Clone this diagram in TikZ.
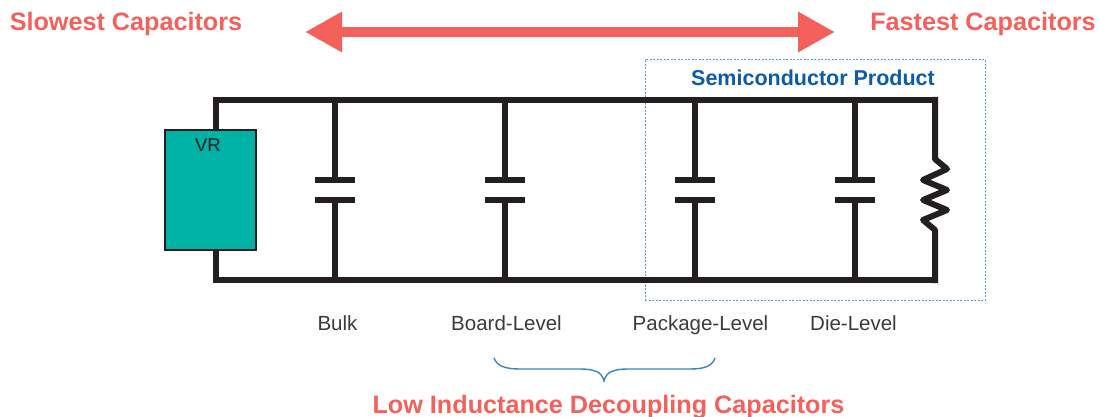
\documentclass[tikz,border=0pt]{standalone}
\usepackage{fontspec}
\setmainfont{Liberation Sans}
\usetikzlibrary{arrows.meta}
\definecolor{coral}{HTML}{F4605A}
\definecolor{teal1}{HTML}{00B2A5}
\definecolor{ink}{HTML}{231F20}
\definecolor{prodblue}{HTML}{0B5CA8}
\definecolor{dotblue}{HTML}{5B9BD0}
\definecolor{bracecol}{HTML}{3A85B5}
\definecolor{labelgrey}{HTML}{3A3A3A}
\tikzset{
  wire/.style={draw=ink,line width=6pt,line join=miter},
  plate/.style={fill=ink,draw=none,minimum width=40pt,minimum height=6pt,inner sep=0pt,outer sep=0pt},
  vrbox/.style={fill=teal1,draw=ink,line width=2pt,minimum width=91pt,minimum height=120pt,inner sep=0pt,outer sep=0pt},
  headline/.style={text=coral,font=\fontsize{25.2}{29}\selectfont\bfseries,inner sep=0pt,anchor=base},
  caplabel/.style={text=labelgrey,font=\fontsize{20.5}{24}\selectfont,inner sep=0pt,anchor=base},
  prodlabel/.style={text=prodblue,font=\fontsize{21.5}{25}\selectfont\bfseries,inner sep=0pt,anchor=base},
  prodbox/.style={draw=dotblue,line width=1pt,dash pattern=on 2pt off 1.5pt,minimum width=340pt,minimum height=240pt,inner sep=0pt},
  bigarrow/.style={draw=coral,line width=9.3pt,{Triangle[length=37pt,width=38pt,fill=coral]}-{Triangle[length=37pt,width=38pt,fill=coral]}},
  bracket/.style={draw=bracecol,line width=1.4pt}
}
\begin{document}
\begin{tikzpicture}[x=1pt,y=-1pt]
\useasboundingbox (0,0) rectangle (1099,417);
% headings
\node[headline] (slow) at (126,30.5) {Slowest Capacitors};
\node[headline] (fast) at (983,30.5) {Fastest Capacitors};
\coordinate (al) at (305,32);
\coordinate (ar) at (835,32);
\draw[bigarrow] (al) -- (ar);
% product box
\node[prodbox] (prod) at (815,180) {};
\node[prodlabel] (prodt) at (813,85.5) {Semiconductor Product};
% grid points
\coordinate (tl) at (216,100);
\coordinate (bl) at (216,280);
\coordinate (tr) at (935,100);
\coordinate (br) at (935,280);
% VR
\draw[wire] (bl) -- (br) (tl) -- (tr);
\node[vrbox] (vr) at (210,190) {};
\draw[wire,line cap=butt] (tl) ++(0,-3) -- (tl |- vr.north);
\draw[wire,line cap=butt] (bl) ++(0,3) -- (tl |- vr.south);
\node[text=ink,font=\fontsize{18.5}{22}\selectfont,inner sep=0pt,anchor=base] (vrt) at (208,151) {VR};
% capacitors
\foreach \n/\x in {1/335,2/505,3/695,4/855}{
  \coordinate (t\n) at (\x,100);
  \coordinate (b\n) at (\x,280);
  \node[plate] (p\n) at (\x,180) {};
  \node[plate] (q\n) at (\x,200) {};
  \draw[wire] (t\n) -- (p\n);
  \draw[wire] (q\n) -- (b\n);
}
% resistor
\draw[wire,line join=round] (935,97) -- (935,159) -- (947,169) -- (923,180) -- (947,190) -- (923,200) -- (947,210) -- (923,220) -- (935,230) -- (935,283);
% labels
\node[caplabel] (l1) at (337.5,330.5) {Bulk};
\node[caplabel] (l2) at (506.5,330.5) {Board-Level};
\node[caplabel] (l3) at (700.5,330.5) {Package-Level};
\node[caplabel] (l4) at (853.5,330.5) {Die-Level};
% brace
\coordinate (ba) at (494,358);
\coordinate (bz) at (715,358);
\coordinate (bt) at (604,381);
\draw[bracket] (ba) .. controls (497,366) and (505,369) .. (520,369) -- (580,369)
  .. controls (592,369) and (602,371) .. (bt)
  .. controls (606,371) and (616,369) .. (628,369) -- (690,369)
  .. controls (705,369) and (712,366) .. (bz);
\node[headline] (low) at (608.5,413) {Low Inductance Decoupling Capacitors};
\end{tikzpicture}
\end{document}
